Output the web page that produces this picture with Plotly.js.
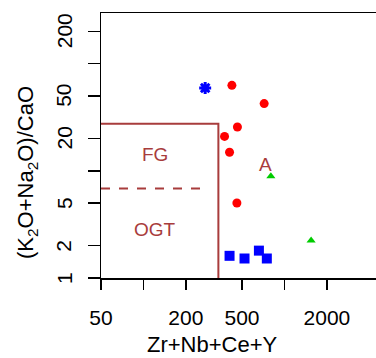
<!DOCTYPE html>
<html><head><meta charset="utf-8">
<script src="https://cdn.plot.ly/plotly-3.0.1.min.js"></script>
<style>html,body{margin:0;padding:0;overflow:hidden;background:#fff}</style>
</head><body>
<div id="chart"></div>
<script>
// Data
const redX = [424, 718, 464, 376, 408, 460];
const redY = [62.6, 42.3, 25.6, 20.9, 14.9, 5.0];
const blueSqX = [408, 521, 659, 750];
const blueSqY = [1.61, 1.52, 1.80, 1.52];
const blueStarX = [274];
const blueStarY = [59.2];
const greenX = [801, 1546];
const greenY = [8.87, 2.24];
// Field boundaries
const boxX = [50, 340, 340];
const boxY = [27.5, 27.5, 1];
const dashX = [50, 290];
const dashY = [6.85, 6.85];
// Ticks
const xTickVals = [50, 100, 200, 500, 1000, 2000, 5000];
const xTickText = ['50', '', '200', '500', '', '2000', ''];
const yTickVals = [1, 2, 5, 10, 20, 50, 100, 200];
const yTickText = ['1', '2', '5', '', '20', '50', '', '200'];
// Field labels
const fieldLabels = ['FG', 'OGT', 'A'];
const fieldLabelX = [121, 121, 730];
const fieldLabelY = [14.1, 2.82, 11.4];

const brown = '#A83C3C';
const font = 'Liberation Sans, Arial, sans-serif';

const traces = [
  {x: boxX, y: boxY, mode: 'lines', line: {color: brown, width: 2}, hoverinfo: 'skip'},
  {x: dashX, y: dashY, mode: 'lines', line: {color: brown, width: 2, dash: '9px,9px'}, hoverinfo: 'skip'},
  {x: redX, y: redY, mode: 'markers', marker: {symbol: 'circle', color: '#FF0000', size: 9}},
  {x: blueSqX, y: blueSqY, mode: 'markers', marker: {symbol: 'square', color: '#0000FF', size: 10}},
  {x: blueStarX, y: blueStarY, mode: 'markers', marker: {symbol: 'asterisk-open', color: '#0000FF', size: 10, line: {color: '#0000FF', width: 3}}},
  {x: greenX, y: greenY, mode: 'markers', marker: {symbol: 'triangle-up', color: '#00CC00', size: 8}}
];

const annotations = fieldLabels.map((t, i) => ({
  x: Math.log10(fieldLabelX[i]), y: Math.log10(fieldLabelY[i]), xref: 'x', yref: 'y',
  text: t, showarrow: false, font: {family: font, size: 19, color: brown}
}));

const W = 400, H = 358;
const m = {l: 101, r: 17, t: 13, b: 80};
const pw = W - m.l - m.r, ph = H - m.t - m.b;
// rotated y tick labels, placed on the y scale
yTickVals.forEach((v, i) => {
  if (!yTickText[i]) return;
  annotations.push({
    xref: 'paper', yref: 'y', xanchor: 'center', yanchor: 'middle',
    x: (64 - m.l) / pw, y: Math.log10(v), text: yTickText[i], showarrow: false, textangle: -90,
    font: {family: font, size: 21, color: '#000'}
  });
});
annotations.push({
  xref: 'paper', yref: 'paper', xanchor: 'center', yanchor: 'middle',
  x: (212 - m.l) / pw, y: (H - 344 - m.b) / ph, text: 'Zr+Nb+Ce+Y', showarrow: false,
  font: {family: font, size: 22, color: '#000'}
});
annotations.push({
  xref: 'paper', yref: 'paper', xanchor: 'center', yanchor: 'middle',
  x: (27 - m.l) / pw, y: (H - 173 - m.b) / ph,
  text: '(K<sub>2</sub>O+Na<sub>2</sub>O)/CaO', showarrow: false, textangle: -90,
  font: {family: font, size: 22, color: '#000'}
});

const layout = {
  width: W, height: H, margin: m, showlegend: false,
  paper_bgcolor: '#fff', plot_bgcolor: '#fff',
  font: {family: font, size: 21, color: '#000'},
  xaxis: {type: 'log', range: [Math.log10(50), Math.log10(5000)], tickvals: xTickVals, ticktext: xTickText,
    ticks: 'outside', ticklen: 10, tickwidth: 1.5, tickcolor: '#000', showline: true, linecolor: '#000', linewidth: 1.5,
    mirror: true, showgrid: false, zeroline: false, tickfont: {size: 21}, ticklabelstandoff: 10},
  yaxis: {type: 'log', range: [0, Math.log10(296)], tickvals: yTickVals, showticklabels: false,
    ticks: 'outside', ticklen: 12, tickwidth: 1.5, tickcolor: '#000', showline: true, linecolor: '#000', linewidth: 1.5,
    mirror: true, showgrid: false, zeroline: false},
  annotations: annotations
};
Plotly.newPlot('chart', traces, layout, {displayModeBar: false, staticPlot: true});
</script>
</body></html>
